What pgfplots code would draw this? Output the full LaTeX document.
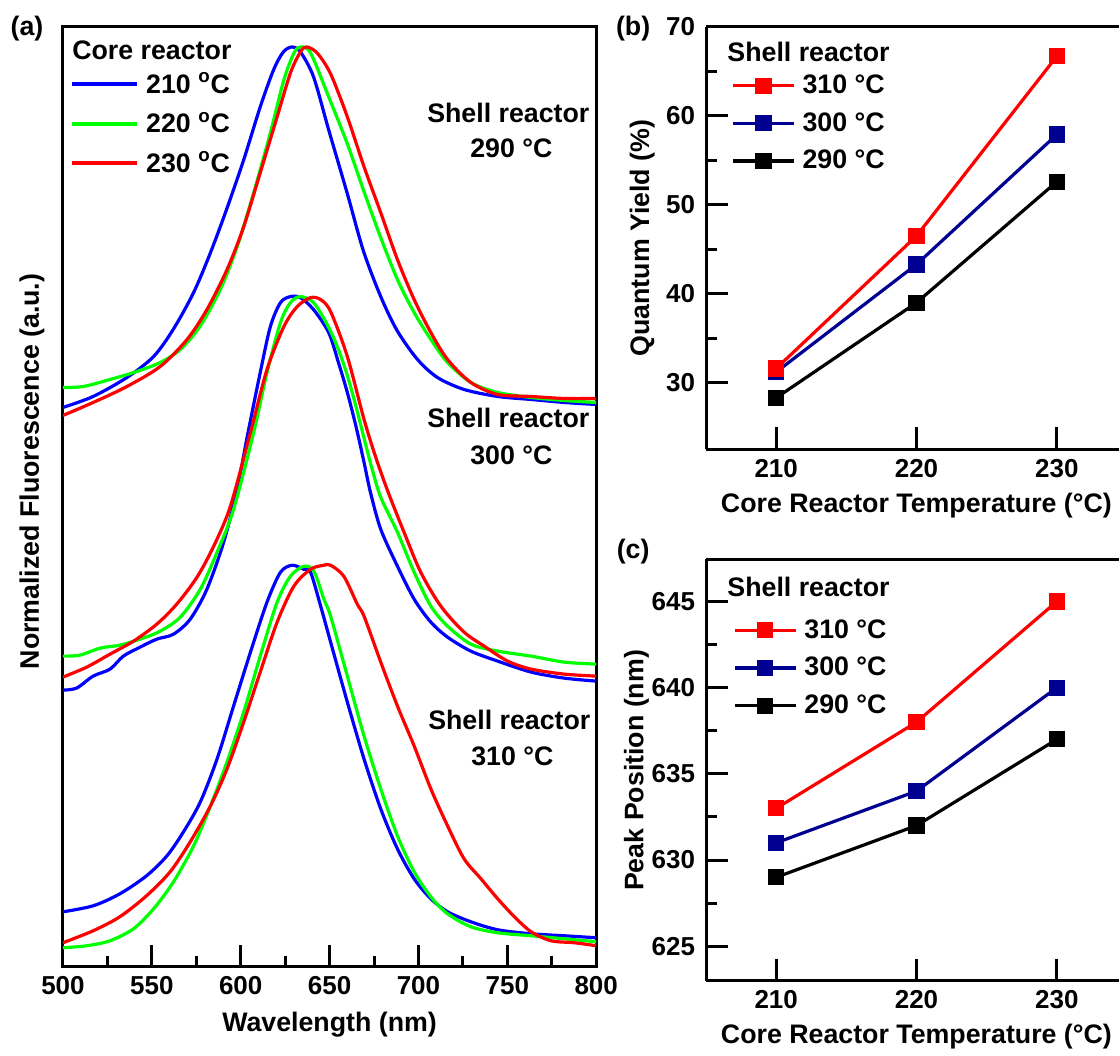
\documentclass[border=0pt]{standalone}
\usepackage{fontspec}
\setmainfont{Liberation Sans}
\usepackage{pgfplots}
\pgfplotsset{compat=1.18}

\definecolor{cblue}{RGB}{0,0,255}
\definecolor{cgreen}{RGB}{0,255,0}
\definecolor{cred}{RGB}{255,0,0}
\definecolor{cnavy}{RGB}{0,0,145}

\newcommand{\lbl}{\fontsize{13.4}{16}\selectfont\bfseries}
\newcommand{\tkl}{\fontsize{13}{15}\selectfont\bfseries}

\pgfplotsset{
  panel/.style={
    scale only axis,
    axis line style={line width=1.5pt, -},
    every tick/.style={line width=1.5pt, black},
    major tick length=11pt,
    minor tick length=5.5pt,
    tick align=inside,
    xtick pos=left, ytick pos=left,
    tick label style={font=\tkl},
    xticklabel style={yshift=-1.5pt},
    yticklabel style={xshift=-2pt},
    label style={font=\lbl},
    /pgf/number format/assume math mode=true,
    legend cell align=left,
    legend style={draw=none, fill=none, inner sep=0pt, font=\lbl,
      row sep=8pt,
      nodes={inner sep=0pt},
      /tikz/every odd column/.append style={column sep=3.5pt}},
  },
  % right-hand panels: no right spine, axis runs to the page edge
  openright/.style={axis x line*=box, axis y line*=left},
  trend/.style={line width=1.6pt, mark=square*, mark size=3.25pt,
    mark options={solid}},
}

\begin{document}
\begin{tikzpicture}
\begin{scope}[x=0.5pt,y=-0.5pt]
  \path (0,0) rectangle (1120,1050);
  \coordinate (A) at (63,968);
  \coordinate (B) at (707,450);
  \coordinate (C) at (707,982);
\end{scope}

% (a) emission spectra, stacked by shell reactor temperature
\begin{axis}[panel, at={(A)}, anchor=south west,
  width=267pt, height=470.5pt,
  xmin=500, xmax=800, ymin=0, ymax=9.41,
  xtick={500,550,...,800}, minor x tick num=1,
  ytick=\empty,
  xlabel={Wavelength (nm)},
  ylabel={Normalized Fluorescence (a.u.)},
  xlabel style={at={(axis description cs:0.5,-0.069)}, anchor=base},
  ylabel style={at={(axis description cs:-0.045,0.527)}, anchor=base},
  legend style={at={(axis description cs:0.0131,0.897)}, anchor=west},
  legend image code/.code={\draw[line width=2pt] (0pt,0pt) -- (32.5pt,0pt);},
  every axis plot/.append style={line width=1.6pt, smooth, tension=0.5},
]
% shell 290
\addplot[cblue] coordinates {(500,5.60) (517,5.71) (536,5.90) (551,6.11) (562,6.38) (573.5,6.75) (583,7.15) (592,7.58) (601.7,8.08) (611,8.61) (618.5,8.98) (624,9.16) (629,9.21) (633.6,9.16) (641,8.91) (649.5,8.38) (660,7.74) (669,7.17) (678.8,6.71) (688,6.37) (699.5,6.08) (710.7,5.90) (725.7,5.78) (744.6,5.71) (763.4,5.68) (782,5.65) (800,5.63)};
\addlegendentry{210 \textsuperscript{o}C}
\addplot[cgreen] coordinates {(500,5.80) (511.5,5.81) (526.5,5.88) (541.5,5.96) (554.7,6.05) (566,6.18) (577,6.41) (588.5,6.78) (598,7.21) (607.3,7.75) (616.7,8.35) (624.3,8.88) (630,9.15) (633.6,9.21) (639.3,9.15) (649.5,8.71) (660,8.24) (669.4,7.76) (678.8,7.30) (688.2,6.88) (697.6,6.55) (707,6.28) (716.4,6.05) (729.5,5.85) (744.6,5.75) (763.4,5.70) (782,5.67) (800,5.65)};
\addlegendentry{220 \textsuperscript{o}C}
\addplot[cred] coordinates {(500,5.52) (517,5.65) (536,5.81) (554.7,6.01) (569.8,6.28) (581,6.58) (592.3,6.98) (601.7,7.41) (611,7.95) (620.5,8.51) (628,8.95) (633.6,9.16) (637,9.21) (643,9.15) (650.6,8.94) (660,8.51) (669.4,8.01) (678.8,7.55) (688.2,7.08) (697.6,6.68) (707,6.35) (716.4,6.08) (729.5,5.85) (744.6,5.73) (763.4,5.71) (782,5.69) (800,5.69)};
\addlegendentry{230 \textsuperscript{o}C}
% shell 300
\addplot[cblue] coordinates {(500,2.77) (507.7,2.79) (517,2.91) (526.5,2.98) (534,3.11) (543.4,3.20) (552.8,3.28) (562.2,3.33) (571.6,3.48) (581,3.78) (590.4,4.25) (598,4.78) (603.6,5.30) (611,5.95) (616.7,6.41) (622.4,6.65) (628,6.71) (633.6,6.70) (641,6.58) (649.5,6.35) (655,6.05) (660,5.75) (665,5.40) (669.4,5.05) (673,4.75) (678.8,4.38) (688.2,4.01) (697.6,3.68) (707,3.45) (716.4,3.30) (729.5,3.16) (744.6,3.06) (763.4,2.95) (782,2.89) (800,2.86)};
\addplot[cgreen] coordinates {(500,3.11) (509.6,3.12) (520.9,3.19) (532,3.22) (543.4,3.28) (554.7,3.36) (566,3.50) (577.3,3.78) (586.7,4.15) (596,4.58) (607.3,5.35) (614.8,5.95) (622.4,6.45) (628,6.65) (633.6,6.71) (641,6.65) (649,6.42) (655,6.18) (660,5.92) (665,5.60) (670,5.25) (674,4.98) (678.8,4.70) (688.2,4.35) (697.6,3.95) (707,3.61) (716.4,3.41) (729.5,3.23) (744.6,3.16) (763.4,3.11) (782,3.05) (800,3.03)};
\addplot[cred] coordinates {(500,2.90) (513.4,3.00) (526.5,3.13) (539.7,3.26) (552.8,3.43) (564,3.63) (575.4,3.90) (584.8,4.21) (594.2,4.61) (605.5,5.35) (614.8,5.98) (624.3,6.41) (631.8,6.61) (639.3,6.70) (645,6.68) (650.6,6.56) (660,6.11) (669.4,5.48) (676,5.10) (683,4.75) (691.9,4.35) (701.3,3.95) (712.6,3.61) (725.7,3.35) (737,3.21) (750.2,3.06) (763.4,2.98) (782,2.93) (800,2.91)};
% shell 310
\addplot[cblue] coordinates {(500,0.55) (517,0.61) (532,0.73) (547,0.91) (558.5,1.11) (567.8,1.35) (577.3,1.65) (586.7,2.08) (596,2.61) (605.5,3.15) (614.8,3.65) (622.4,3.95) (629,4.02) (635.5,3.98) (639.3,3.95) (645,3.61) (650.6,3.25) (660,2.65) (669.4,2.08) (678.8,1.58) (688.2,1.18) (697.6,0.88) (707,0.68) (716.4,0.55) (729.5,0.45) (744.6,0.37) (763.4,0.33) (782,0.31) (800,0.29)};
\addplot[cgreen] coordinates {(500,0.19) (513.4,0.21) (526.5,0.26) (539.7,0.38) (551,0.58) (562.2,0.85) (573.5,1.21) (583,1.61) (592.3,2.05) (601.7,2.55) (611,3.11) (620.5,3.65) (628,3.91) (635.5,4.01) (641.2,3.96) (646.8,3.68) (650.6,3.51) (660,2.91) (669.4,2.31) (678.8,1.78) (688.2,1.31) (697.6,0.95) (707,0.70) (716.4,0.53) (729.5,0.40) (744.6,0.34) (763.4,0.31) (782,0.28) (800,0.25)};
\addplot[cred] coordinates {(500,0.24) (517,0.36) (532,0.50) (547,0.71) (560.3,0.95) (571.6,1.25) (583,1.61) (592.3,1.98) (601.7,2.45) (611,2.95) (620.5,3.45) (629.9,3.81) (639.3,3.98) (646.8,4.02) (650.6,4.02) (658,3.91) (665.6,3.63) (669.4,3.51) (678.8,3.05) (688.2,2.61) (697.6,2.21) (707,1.78) (716.4,1.41) (725.7,1.08) (735.2,0.88) (744.6,0.68) (754,0.50) (763.4,0.35) (774.6,0.26) (787.8,0.24) (800,0.21)};
\end{axis}

% (b) quantum yield
\begin{axis}[panel, openright, at={(B)}, anchor=south west,
  width=206.5pt, height=211.5pt,
  xmin=205, xmax=234.4, ymin=22.5, ymax=70,
  xtick={210,220,230},
  ytick={30,40,...,70}, minor y tick num=1,
  xlabel={Core Reactor Temperature (°C)},
  ylabel={Quantum Yield (\%)},
  xlabel style={at={(axis description cs:0.51,-0.149)}, anchor=base},
  ylabel style={at={(axis description cs:-0.138,0.5)}, anchor=base},
  legend style={at={(axis description cs:0.0605,0.772)}, anchor=west},
  reverse legend,
  legend image code/.code={\draw[mark repeat=2,mark phase=2] plot coordinates {(0pt,0pt) (15.25pt,0pt) (30.5pt,0pt)};},
]
\addplot[trend, black] coordinates {(210,28.3) (220,39.0) (230,52.6)};
\addlegendentry{290 °C}
\addplot[trend, cnavy] coordinates {(210,31.2) (220,43.3) (230,57.9)};
\addlegendentry{300 °C}
\addplot[trend, cred] coordinates {(210,31.6) (220,46.5) (230,66.7)};
\addlegendentry{310 °C}
\end{axis}

% (c) emission peak position
\begin{axis}[panel, openright, at={(C)}, anchor=south west,
  width=206.5pt, height=211pt,
  xmin=205, xmax=234.4, ymin=623, ymax=647.45,
  xtick={210,220,230},
  ytick={625,630,...,645}, minor y tick num=1,
  xlabel={Core Reactor Temperature (°C)},
  ylabel={Peak Position (nm)},
  xlabel style={at={(axis description cs:0.51,-0.149)}, anchor=base},
  ylabel style={at={(axis description cs:-0.152,0.499)}, anchor=base},
  legend style={at={(axis description cs:0.065,0.742)}, anchor=west},
  reverse legend,
  legend image code/.code={\draw[mark repeat=2,mark phase=2] plot coordinates {(0pt,0pt) (15.25pt,0pt) (30.5pt,0pt)};},
]
\addplot[trend, black] coordinates {(210,629) (220,632) (230,637)};
\addlegendentry{290 °C}
\addplot[trend, cnavy] coordinates {(210,631) (220,634) (230,640)};
\addlegendentry{300 °C}
\addplot[trend, cred] coordinates {(210,633) (220,638) (230,645)};
\addlegendentry{310 °C}
\end{axis}

% panel tags, legend titles and in-plot annotations
\begin{scope}[x=0.5pt,y=-0.5pt, every node/.style={font=\lbl, inner sep=0pt}]
  \node[anchor=base] at (27,36) {(a)};
  \node[anchor=base] at (634,36) {(b)};
  \node[anchor=base] at (634,559) {(c)};
  \node[anchor=base west] at (72,60) {Core reactor};
  \node[anchor=base west] at (728,62) {Shell reactor};
  \node[anchor=base west] at (728,597) {Shell reactor};
  \node[anchor=base] at (509,123) {Shell reactor};
  \node[anchor=base] at (512,158) {290 °C};
  \node[anchor=base] at (509,428) {Shell reactor};
  \node[anchor=base] at (512,465) {300 °C};
  \node[anchor=base] at (510,730) {Shell reactor};
  \node[anchor=base] at (513,767) {310 °C};
\end{scope}
\end{tikzpicture}
\end{document}
